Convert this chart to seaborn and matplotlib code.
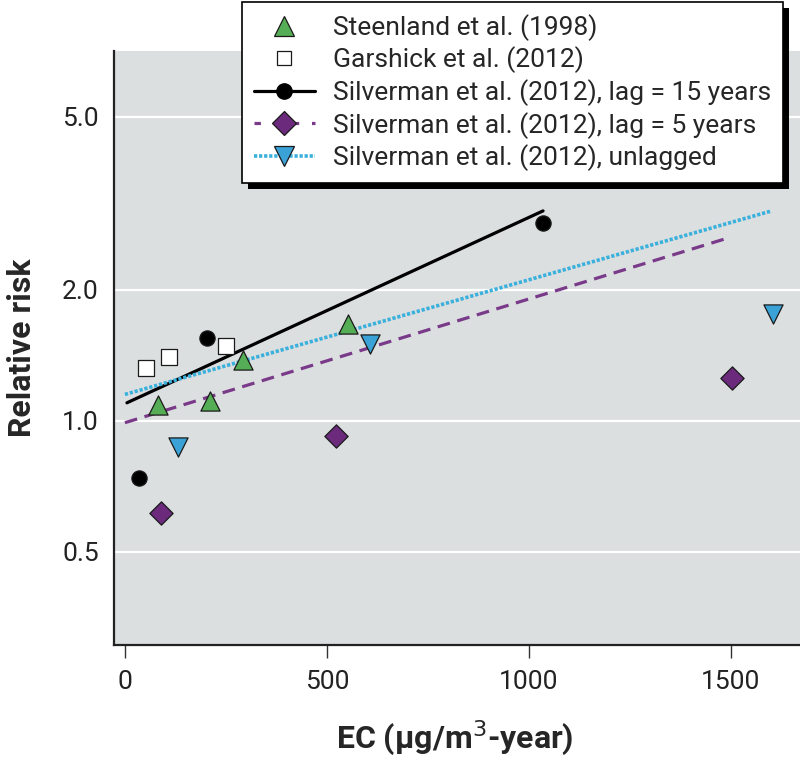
import pandas as pd
import matplotlib.pyplot as plt
import seaborn as sns
from matplotlib.lines import Line2D
from matplotlib.patches import Rectangle

# Values
steenland_ec = [82, 210, 292, 552]
steenland_rr = [1.09, 1.11, 1.38, 1.67]

garshick_ec = [52, 109, 250]
garshick_rr = [1.32, 1.40, 1.49]

lag15_ec = [35, 203, 1035]
lag15_rr = [0.74, 1.55, 2.85]
lag15_fit_ec = [5, 1035]
lag15_fit_rr = [1.10, 3.04]

lag5_ec = [89, 522, 1502]
lag5_rr = [0.615, 0.925, 1.255]
lag5_fit_ec = [0, 1485]
lag5_fit_rr = [0.99, 2.62]

unlag_ec = [131, 606, 1604]
unlag_rr = [0.87, 1.50, 1.76]
unlag_fit_ec = [0, 1601]
unlag_fit_rr = [1.15, 3.04]

y_ticks = [0.5, 1.0, 2.0, 5.0]
y_tick_labels = ['0.5', '1.0', '2.0', '5.0']
x_ticks = [0, 500, 1000, 1500]

labels = ['Steenland et al. (1998)', 'Garshick et al. (2012)',
          'Silverman et al. (2012), lag = 15 years',
          'Silverman et al. (2012), lag = 5 years',
          'Silverman et al. (2012), unlagged']

green = '#55ad55'
purple = '#6b2a7c'
purple_line = '#7a3a8a'
blue = '#3aa2d6'
blue_line = '#3ab0dc'
bg = '#dcdfe0'

sns.set_style('white')
plt.rcParams['font.family'] = ['Roboto', 'DejaVu Sans']

fig = plt.figure(figsize=(8, 7.61), dpi=100)
ax = fig.add_axes([114 / 800, 1 - 645 / 761, 1 - 114 / 800, (645 - 51) / 761])
ax.set_facecolor(bg)

# fitted lines
sns.lineplot(x=lag15_fit_ec, y=lag15_fit_rr, ax=ax, color='black', lw=2.3, zorder=3)
sns.lineplot(x=lag5_fit_ec, y=lag5_fit_rr, ax=ax, color=purple_line, lw=2.3,
             zorder=3).lines[-1].set_dashes([4, 2.4])
sns.lineplot(x=unlag_fit_ec, y=unlag_fit_rr, ax=ax, color=blue_line, lw=2.6,
             zorder=3).lines[-1].set_dashes([0.9, 0.5])

# points
kw = dict(ax=ax, edgecolor='#1a1a1a', linewidth=0.9, zorder=4, legend=False)
sns.scatterplot(x=steenland_ec, y=steenland_rr, marker='^', s=190, color=green, **kw)
sns.scatterplot(x=garshick_ec, y=garshick_rr, marker='s', s=120, color='white', **kw)
sns.scatterplot(x=lag15_ec, y=lag15_rr, marker='o', s=120, color='black', **kw)
sns.scatterplot(x=lag5_ec, y=lag5_rr, marker='D', s=140, color=purple, **kw)
sns.scatterplot(x=unlag_ec, y=unlag_rr, marker='v', s=190, color=blue, **kw)

ax.set_yscale('log')
ax.set_ylim(0.305, 7.09)
ax.set_xlim(-27, 1671)
ax.set_yticks(y_ticks)
ax.set_yticklabels(y_tick_labels)
ax.minorticks_off()
ax.set_xticks(x_ticks)
ax.yaxis.grid(True, color='white', lw=1.6)
ax.xaxis.grid(False)
ax.set_axisbelow(True)

for s in ['top', 'right']:
    ax.spines[s].set_visible(False)
for s in ['left', 'bottom']:
    ax.spines[s].set_linewidth(1.6)
    ax.spines[s].set_color('#222222')

ax.tick_params(axis='y', length=0, pad=11, labelsize=19, labelcolor='#222222')
ax.tick_params(axis='x', length=9, width=1, color='#333333', pad=9,
               labelsize=19, labelcolor='#222222', bottom=True)

ax.set_xlabel('EC (µg/m$^{3}$-year)', fontsize=23, fontweight='bold')
ax.set_ylabel('Relative risk', fontsize=23, fontweight='bold')
ax.xaxis.set_label_coords(0.497, -0.124)
ax.yaxis.set_label_coords(-0.112, 0.5)

handles = [
    Line2D([], [], ls='none', marker='^', ms=14, mfc=green, mec='#1a1a1a', mew=0.9),
    Line2D([], [], ls='none', marker='s', ms=10, mfc='white', mec='#1a1a1a', mew=0.9),
    Line2D([], [], color='black', lw=2.3, marker='o', ms=11, mfc='black', mec='black'),
    Line2D([], [], color=purple_line, lw=2.3, dashes=[2, 4], marker='D', ms=12,
           mfc=purple, mec='#1a1a1a', mew=0.9),
    Line2D([], [], color=blue_line, lw=2.6, dashes=[0.9, 0.5], marker='v', ms=14,
           mfc=blue, mec='#1a1a1a', mew=0.9),
]
leg = ax.legend(handles, labels, loc='upper right',
                bbox_to_anchor=(783 / 800, 1 - 2 / 761), bbox_transform=fig.transFigure,
                fontsize=19, frameon=True, fancybox=False, framealpha=1,
                edgecolor='black', handlelength=2.3, handletextpad=0.7,
                labelspacing=0.22, borderpad=0.45, borderaxespad=0)
leg.get_frame().set_linewidth(1.2)
leg.set_zorder(10)

# solid black drop shadow behind the legend box
fig.canvas.draw()
bb = leg.get_window_extent().transformed(fig.transFigure.inverted())
ax.add_artist(Rectangle((bb.x0 + 6 / 800, bb.y0 - 6 / 761), bb.width, bb.height,
                        transform=fig.transFigure, facecolor='black', edgecolor='none',
                        clip_on=False, zorder=9))

fig.savefig('out.png', dpi=100)
